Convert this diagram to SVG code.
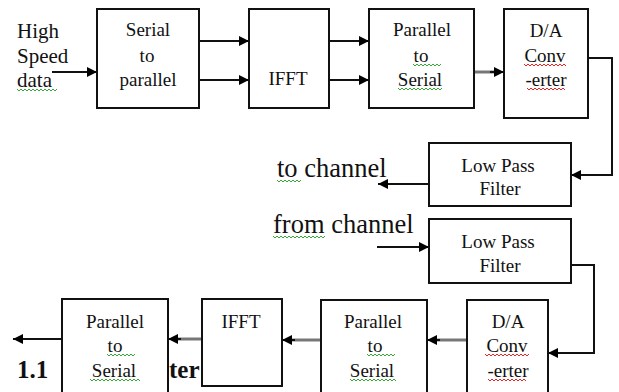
<svg xmlns="http://www.w3.org/2000/svg" width="619" height="392" viewBox="0 0 619 392">
  <defs>
    <marker id="ah" viewBox="0 0 10 10" refX="10" refY="5" markerWidth="11" markerHeight="10" markerUnits="userSpaceOnUse" orient="auto">
      <path d="M0,0 L10,5 L0,10 Z" fill="#000"/>
    </marker>
    <style>
      .box { fill: #fff; stroke: #111; stroke-width: 2; }
      .t { font-family: "Liberation Serif", "Times New Roman", serif; font-size: 19px; fill: #111; text-anchor: middle; }
      .lbl { font-family: "Liberation Serif", "Times New Roman", serif; font-size: 21px; fill: #111; }
      .big { font-family: "Liberation Serif", "Times New Roman", serif; font-size: 26.5px; fill: #111; }
      .head { font-family: "Liberation Serif", "Times New Roman", serif; font-size: 25px; font-weight: bold; fill: #111; }
      .c { fill: none; stroke: #111; stroke-width: 2; }
      .g { fill: none; stroke: #777; stroke-width: 3; }
      .sqg { fill: none; stroke: #3a3; stroke-width: 1; }
      .sqr { fill: none; stroke: #e22; stroke-width: 1; }
    </style>
  </defs>

  <!-- heading partly covered by the receiver boxes -->
  <text class="head" x="17" y="378">1.1</text>
  <text class="head" x="169" y="378">ter</text>

  <!-- free labels -->
  <text class="lbl" x="17" y="38">High</text>
  <text class="lbl" x="17" y="63">Speed</text>
  <text class="lbl" x="17" y="87">data</text>
  <text class="big" x="277" y="177">to channel</text>
  <text class="big" x="273" y="233">from channel</text>

  <!-- connectors -->
  <g id="connectors">
    <line class="c" x1="52" y1="72" x2="97" y2="72" marker-end="url(#ah)"/>
    <line class="c" x1="199" y1="41" x2="249" y2="41" marker-end="url(#ah)"/>
    <line class="c" x1="199" y1="80" x2="249" y2="80" marker-end="url(#ah)"/>
    <line class="c" x1="329" y1="41" x2="369" y2="41" marker-end="url(#ah)"/>
    <line class="c" x1="329" y1="80" x2="369" y2="80" marker-end="url(#ah)"/>
    <line class="g" x1="474" y1="72" x2="496" y2="72"/>
    <line class="c" x1="490" y1="72" x2="504" y2="72" marker-end="url(#ah)"/>
    <polyline class="c" points="588,58 612,58 612,175 571,175" marker-end="url(#ah)"/>
    <line class="c" x1="429" y1="184" x2="378" y2="184" marker-end="url(#ah)"/>
    <line class="c" x1="377" y1="247" x2="429" y2="247" marker-end="url(#ah)"/>
    <polyline class="c" points="571,265 594,265 594,353 548,353" marker-end="url(#ah)"/>
    <line class="g" x1="467" y1="340" x2="436" y2="340"/>
    <line class="c" x1="440" y1="340" x2="427" y2="340" marker-end="url(#ah)"/>
    <line class="g" x1="321" y1="340" x2="291" y2="340"/>
    <line class="c" x1="295" y1="340" x2="282" y2="340" marker-end="url(#ah)"/>
    <line class="g" x1="202" y1="339" x2="177" y2="339"/>
    <line class="c" x1="181" y1="339" x2="168" y2="339" marker-end="url(#ah)"/>
    <line class="c" x1="62" y1="339" x2="13" y2="339" marker-end="url(#ah)"/>
  </g>

  <!-- transmitter chain -->
  <g id="tx-s2p">
    <rect class="box" x="97" y="9" width="102" height="99"/>
    <text class="t" x="148" y="36">Serial</text>
    <text class="t" x="147" y="62">to</text>
    <text class="t" x="148" y="86">parallel</text>
  </g>
  <g id="tx-ifft">
    <rect class="box" x="249" y="9" width="80" height="99"/>
    <text class="t" x="288" y="85">IFFT</text>
  </g>
  <g id="tx-p2s">
    <rect class="box" x="369" y="9" width="105" height="99"/>
    <text class="t" x="422" y="36">Parallel</text>
    <text class="t" x="421" y="62">to</text>
    <text class="t" x="420" y="86">Serial</text>
  </g>
  <g id="tx-da">
    <rect class="box" x="504" y="9" width="84" height="109"/>
    <text class="t" x="546" y="37">D/A</text>
    <text class="t" x="545" y="62">Conv</text>
    <text class="t" x="546" y="86">-erter</text>
  </g>
  <g id="tx-lpf">
    <rect class="box" x="429" y="143" width="142" height="63"/>
    <text class="t" x="498" y="172">Low Pass</text>
    <text class="t" x="500" y="195">Filter</text>
  </g>

  <!-- receiver chain -->
  <g id="rx-lpf">
    <rect class="box" x="429" y="219" width="142" height="64"/>
    <text class="t" x="498" y="248">Low Pass</text>
    <text class="t" x="500" y="272">Filter</text>
  </g>
  <g id="rx-da">
    <rect class="box" x="467" y="300" width="81" height="100"/>
    <text class="t" x="508" y="328">D/A</text>
    <text class="t" x="507" y="352">Conv</text>
    <text class="t" x="508" y="377">-erter</text>
  </g>
  <g id="rx-p2s-a">
    <rect class="box" x="321" y="300" width="106" height="100"/>
    <text class="t" x="373" y="328">Parallel</text>
    <text class="t" x="375" y="352">to</text>
    <text class="t" x="372" y="377">Serial</text>
  </g>
  <g id="rx-ifft">
    <rect class="box" x="202" y="299" width="80" height="87"/>
    <text class="t" x="241" y="328">IFFT</text>
  </g>
  <g id="rx-p2s-b">
    <rect class="box" x="62" y="299" width="106" height="101"/>
    <text class="t" x="115" y="328">Parallel</text>
    <text class="t" x="115" y="352">to</text>
    <text class="t" x="114" y="377">Serial</text>
  </g>

  <!-- proofing underlines -->
  <g id="squiggles">
    <polyline class="sqg" points="17,89 19,91 21,89 23,91 25,89 27,91 29,89 31,91 33,89 35,91 37,89 39,91 41,89 43,91 45,89 47,91 49,89 51,91 53,89 55,91 57,89"/>
    <polyline class="sqg" points="413,64 415,66 417,64 419,66 421,64 423,66 425,64 427,66 429,64 431,66 433,64 435,66 437,64 439,66 441,64"/>
    <polyline class="sqg" points="398,88 400,90 402,88 404,90 406,88 408,90 410,88 412,90 414,88 416,90 418,88 420,90 422,88 424,90 426,88 428,90 430,88 432,90 434,88 436,90 438,88 440,90 442,88"/>
    <polyline class="sqr" points="524,64 526,66 528,64 530,66 532,64 534,66 536,64 538,66 540,64 542,66 544,64 546,66 548,64 550,66 552,64 554,66 556,64 558,66 560,64 562,66 564,64 566,66"/>
    <polyline class="sqr" points="527,88 529,90 531,88 533,90 535,88 537,90 539,88 541,90 543,88 545,90 547,88 549,90 551,88 553,90 555,88 557,90 559,88 561,90 563,88 565,90"/>
    <polyline class="sqg" points="277,180 279,182 281,180 283,182 285,180 287,182 289,180 291,182 293,180 295,182 297,180 299,182 301,180"/>
    <polyline class="sqg" points="273,236 275,238 277,236 279,238 281,236 283,238 285,236 287,238 289,236 291,238 293,236 295,238 297,236 299,238 301,236 303,238 305,236 307,238 309,236 311,238 313,236 315,238 317,236 319,238 321,236 323,238 325,236"/>
    <polyline class="sqr" points="485,354 487,356 489,354 491,356 493,354 495,356 497,354 499,356 501,354 503,356 505,354 507,356 509,354 511,356 513,354 515,356 517,354 519,356 521,354 523,356 525,354 527,356 529,354"/>
    <polyline class="sqr" points="488,379 490,381 492,379 494,381 496,379 498,381 500,379 502,381 504,379 506,381 508,379 510,381 512,379 514,381 516,379 518,381 520,379 522,381 524,379 526,381"/>
    <polyline class="sqg" points="367,354 369,356 371,354 373,356 375,354 377,356 379,354 381,356 383,354 385,356 387,354 389,356 391,354 393,356 395,354"/>
    <polyline class="sqg" points="350,379 352,381 354,379 356,381 358,379 360,381 362,379 364,381 366,379 368,381 370,379 372,381 374,379 376,381 378,379 380,381 382,379 384,381 386,379 388,381 390,379 392,381 394,379 396,381"/>
    <polyline class="sqg" points="107,354 109,356 111,354 113,356 115,354 117,356 119,354 121,356 123,354 125,356 127,354 129,356 131,354 133,356 135,354"/>
    <polyline class="sqg" points="90,379 92,381 94,379 96,381 98,379 100,381 102,379 104,381 106,379 108,381 110,379 112,381 114,379 116,381 118,379 120,381 122,379 124,381 126,379 128,381 130,379 132,381 134,379 136,381 138,379 140,381"/>
  </g>
</svg>
